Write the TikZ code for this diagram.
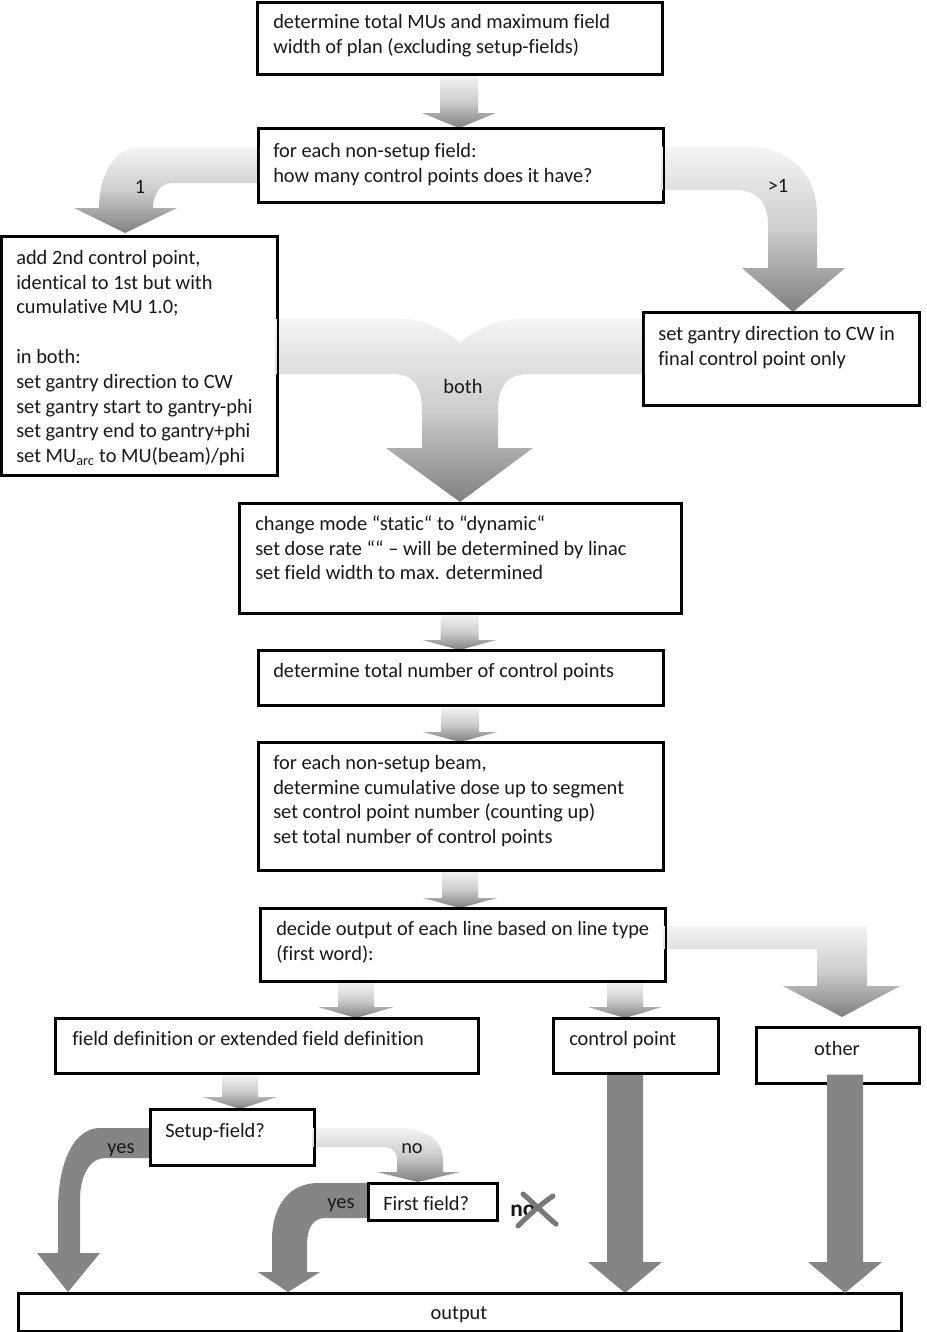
\documentclass[tikz,border=0pt]{standalone}
\usepackage{fontspec}
\setmainfont{Carlito}[Ligatures=NoCommon]
\usetikzlibrary{calc}
\definecolor{arlight}{RGB}{244,244,244}
\definecolor{armid}{RGB}{205,205,205}
\definecolor{ardark}{RGB}{128,128,128}
\definecolor{solidgray}{RGB}{133,133,133}
\definecolor{txtcol}{RGB}{25,25,25}
\definecolor{xgray}{RGB}{120,120,120}
% straight block arrow: style, x(px), from, to, half shaft, half head, head length (px)
\newcommand\varrow[7]{%
  \path[#1] let \p1=(#3), \p2=(#4), \n1={#2*0.75pt} in
    ({\n1-#5*0.75pt},\y1) -- ({\n1+#5*0.75pt},\y1) -- ({\n1+#5*0.75pt},{\y2+#7*0.75pt})
    -- ({\n1+#6*0.75pt},{\y2+#7*0.75pt}) -- (\n1,\y2) -- ({\n1-#6*0.75pt},{\y2+#7*0.75pt})
    -- ({\n1-#5*0.75pt},{\y2+#7*0.75pt}) -- cycle;}
\newcommand\mkbox[5]{\node[box, minimum width={(#4-#2)*0.75pt}, minimum height={(#5-#3)*0.75pt}] (#1) at (#2,#3) {};}
\newcommand\mktxt[4]{\node[txt] (#1) at (#2,{#3-17.4}) {\strut #4};}
\begin{document}
\begin{tikzpicture}[x=0.75pt,y=-0.75pt,
  box/.style={draw=black, fill=white, line width=1.5pt, inner sep=0pt, anchor=north west, rectangle},
  txt/.style={font=\fontsize{15.3}{18.6}\selectfont, text=txtcol, inner sep=0pt, align=left, anchor=north west},
  lbl/.style={font=\fontsize{15.3}{18.6}\selectfont, text=txtcol, inner sep=0pt, anchor=base},
  gshade/.style={top color=arlight, bottom color=ardark, middle color=armid},
  darkarrow/.style={fill=solidgray}]
\fill[white] (0,0) rectangle (926,1332);
\useasboundingbox (0,0) rectangle (926,1332);

% boxes (named)
\mkbox{A}{257}{2}{661}{73}
\mkbox{B}{258}{128}{662}{201}
\mkbox{C}{1}{236}{276}{474}
\mkbox{D}{643}{312}{918}{404}
\mkbox{E}{239}{503}{680}{612}
\mkbox{F}{258}{650}{662}{704}
\mkbox{G}{258}{742}{662}{869}
\mkbox{H}{260}{908}{664}{980}
\mkbox{I}{55}{1018}{477}{1072}
\mkbox{J}{553}{1018}{717}{1072}
\mkbox{K}{756}{1027}{918}{1082}
\mkbox{L}{150}{1109}{313}{1164}
\mkbox{M}{368}{1183}{496}{1219}
\mkbox{N}{18}{1293}{900}{1330}

% curved / bent block arrows
\path[gshade] (259,147) -- (140,147) .. controls (115,147) and (99,175) .. (99,208)
  -- (74,208) -- (125,233) -- (177,208) -- (153,208) .. controls (153,195) and (160,183) .. (172,183)
  -- (259,183) -- cycle;
\path[gshade] (661,147) -- (750,147) .. controls (790,147) and (817,175) .. (817,215)
  -- (817,268) -- (845,268) -- (793,312) -- (742,268) -- (768,268) -- (768,225)
  .. controls (768,200) and (755,190) .. (735,190) -- (661,190) -- cycle;
\path[gshade] (275,319) -- (400,319) .. controls (425,319) and (445,330) .. (460,343)
  .. controls (475,330) and (495,319) .. (523,319) -- (644,319) -- (644,374) -- (530,374)
  .. controls (508,374) and (498,385) .. (498,410) -- (498,448) -- (533,448) -- (460,502)
  -- (386,448) -- (422,448) -- (422,410) .. controls (422,385) and (412,374) .. (393,374)
  -- (275,374) -- cycle;
\path[gshade] (663,926) -- (867,926) -- (867,986) -- (900,986) -- (842,1017) -- (783,986)
  -- (817,986) -- (817,949) -- (663,949) -- cycle;
\path[gshade] (312,1128) -- (400,1128) .. controls (425,1128) and (443,1140) .. (443,1160)
  -- (443,1172) -- (460,1172) -- (418,1182) -- (377,1172) -- (397,1172) -- (397,1160)
  .. controls (397,1152) and (392,1147) .. (385,1147) -- (312,1147) -- cycle;
\path[darkarrow] (151,1128) -- (100,1128) .. controls (75,1128) and (58,1160) .. (58,1210)
  -- (58,1253) -- (37,1253) -- (68,1292) -- (100,1253) -- (80,1253) -- (80,1200)
  .. controls (80,1175) and (90,1158) .. (105,1158) -- (151,1158) -- cycle;
\path[darkarrow] (369,1183) -- (318,1183) .. controls (290,1183) and (272,1205) .. (272,1240)
  -- (272,1272) -- (258,1272) -- (288,1292) -- (320,1272) -- (307,1272) -- (307,1245)
  .. controls (307,1228) and (313,1218) .. (325,1218) -- (369,1218) -- cycle;

% straight block arrows
\varrow{gshade}{459}{A.south}{B.north}{19}{37}{15}
\varrow{gshade}{459.5}{E.south}{F.north}{19}{37}{10}
\varrow{gshade}{460}{F.south}{G.north}{19}{37}{10}
\varrow{gshade}{460}{G.south}{H.north}{18}{37}{10}
\varrow{gshade}{356}{H.south}{I.north}{18}{38}{11}
\varrow{gshade}{625}{H.south}{J.north}{18}{37}{11}
\varrow{gshade}{240}{I.south}{L.north}{18}{37}{12}
\varrow{darkarrow}{625}{J.south}{N.north}{18}{37}{31}

% redraw box borders on top of arrow ends
\foreach \b in {A,B,C,D,E,F,G,H,I,J,K,L,M,N}
  \draw[line width=1.5pt] (\b.north west) rectangle (\b.south east);

\varrow{darkarrow}{845}{[yshift=7pt]K.south}{N.north}{18}{37}{31}

% texts
\mktxt{At}{273}{28}{determine total MUs and maximum field\\width of plan (excluding setup-fields)}
\mktxt{Bt}{273}{157}{for each non-setup field:\\how many control points does it have?}
\mktxt{Ct}{16}{264}{add 2nd control point,\\identical to 1st but with\\cumulative MU 1.0;\\\mbox{}\\in both:\\set gantry direction to CW\\set gantry start to gantry-phi\\set gantry end to gantry+phi\\set MU\textsubscript{arc} to MU(beam)/phi}
\mktxt{Dt}{658}{340}{set gantry direction to CW in\\final control point only}
\mktxt{Et}{255}{530}{change mode “static“ to “dynamic“\\set dose rate ““ – will be determined by linac\\set field width to max. determined}
\mktxt{Ft}{273}{677}{determine total number of control points}
\mktxt{Gt}{273}{769}{for each non-setup beam,\\determine cumulative dose up to segment\\set control point number (counting up)\\set total number of control points}
\mktxt{Ht}{276}{935}{decide output of each line based on line type\\(first word):}
\mktxt{It}{72}{1045}{field definition or extended field definition}
\mktxt{Jt}{569}{1045}{control point}
\node[lbl] (Kt) at (837,1055) {other};
\mktxt{Lt}{165}{1137}{Setup-field?}
\mktxt{Mt}{383}{1210}{First field?}
\node[lbl] (Nt) at (459,1319) {output};

% arrow labels
\node[lbl] (l1) at (140,193) {1};
\node[lbl] (l2) at (778,192) {>1};
\node[lbl] (l3) at (463,393) {both};
\node[lbl] (l4) at (121,1153) {yes};
\node[lbl] (l5) at (412,1153) {no};
\node[lbl] (l6) at (341,1208) {yes};
\node[lbl, anchor=base west, font=\fontsize{17.5}{20}\selectfont\bfseries] (l7) at (510,1216) {no};
\draw[xgray, line width=3.8pt, line cap=round] (523,1194) .. controls (538,1207) and (546,1216) .. (556,1224);
\draw[xgray, line width=3.8pt, line cap=round] (518,1226) .. controls (530,1214) and (541,1204) .. (553,1196);
\end{tikzpicture}
\end{document}
